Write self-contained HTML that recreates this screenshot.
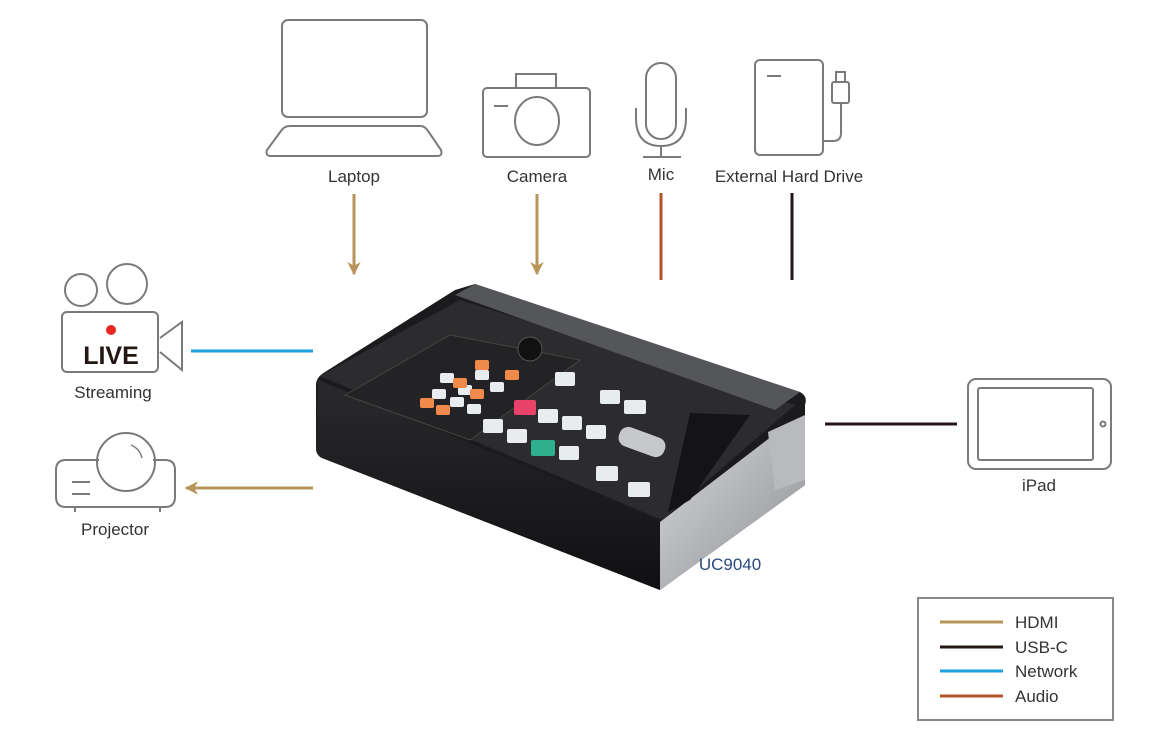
<!DOCTYPE html>
<html><head><meta charset="utf-8"><style>
body{margin:0;background:#fff;width:1170px;height:743px;overflow:hidden}
svg{display:block}
text{font-family:"Liberation Sans",sans-serif;fill:#333;font-size:17px}
</style></head><body>
<svg width="1170" height="743" viewBox="0 0 1170 743">
<defs>
<marker id="ah" viewBox="0 0 10 10" refX="9" refY="5" markerWidth="4.5" markerHeight="4.5" orient="auto"><path d="M0,0 L10,5 L0,10 L3,5 z" fill="#b8965a"/></marker>
<linearGradient id="sil" x1="0" y1="0" x2="1" y2="1"><stop offset="0" stop-color="#d8d9db"/><stop offset="1" stop-color="#8d8f93"/></linearGradient>
<linearGradient id="front" x1="0" y1="0" x2="0" y2="1"><stop offset="0" stop-color="#2a2a2d"/><stop offset="1" stop-color="#101012"/></linearGradient>
</defs>
<g fill="none" stroke="#7a7a7a" stroke-width="2">
<rect x="282" y="20" width="145" height="97" rx="6"/>
<path d="M290,126 H420 Q425,126 428,131 L441,150 Q443,156 437,156 H271 Q265,156 267,150 L281,131 Q284,126 290,126 Z"/>
<rect x="483" y="88" width="107" height="69" rx="4"/>
<path d="M516,88 V74 H556 V88"/>
<ellipse cx="537" cy="121" rx="22" ry="24"/>
<path d="M494,106 H508"/>
<rect x="646" y="63" width="30" height="76" rx="15"/>
<path d="M636,108 V118 Q636,146 661,146 Q686,146 686,118 V108"/>
<path d="M661,146 V157 M643,157 H681"/>
<rect x="755" y="60" width="68" height="95" rx="5"/>
<path d="M767,76 H781"/>
<rect x="832" y="82" width="17" height="21" rx="2"/>
<path d="M836,82 V72 H845 V82"/>
<path d="M841,103 V133 Q841,141 833,141 H823"/>
<circle cx="81" cy="290" r="16"/>
<circle cx="127" cy="284" r="20"/>
<rect x="62" y="312" width="96" height="60" rx="5"/>
<path d="M160,338 L182,322 V370 L160,352"/>
<path d="M66,460 H99 M153,460 H165 Q175,460 175,470 V497 Q175,507 165,507 H66 Q56,507 56,497 V470 Q56,460 66,460"/>
<circle cx="126" cy="462" r="29"/>
<path d="M131,445 Q140,449 142,458" stroke-width="1.5"/>
<path d="M72,482 H90 M72,494 H90 M75,507 V512 M160,507 V512"/>
<rect x="968" y="379" width="143" height="90" rx="8"/>
<rect x="978" y="388" width="115" height="72" rx="2"/>
<circle cx="1103" cy="424" r="2.5"/>
</g>
<circle cx="111" cy="330" r="5" fill="#e6261f"/>
<text x="111" y="364" text-anchor="middle" style="font-weight:bold;font-size:25px;fill:#231815">LIVE</text>
<g stroke-width="3" fill="none">
<path d="M354,194 V274" stroke="#b8965a" marker-end="url(#ah)"/>
<path d="M537,194 V274" stroke="#b8965a" marker-end="url(#ah)"/>
<path d="M661,193 V280" stroke="#b5532a"/>
<path d="M792,193 V280" stroke="#231815"/>
<path d="M191,351 H313" stroke="#1fa0e0"/>
<path d="M313,488 H186" stroke="#b8965a" marker-end="url(#ah)"/>
<path d="M825,424 H957" stroke="#231815"/>
</g>
<!-- device -->
<path d="M325,372 L455,290 L475,284 L800,392 Q808,396 805,405 L805,485 L660,590 L322,458 Q316,455 316,448 L316,385 Q316,377 325,372 Z" fill="#1b1b1d"/>
<polygon points="320,376 460,300 795,405 662,520" fill="#2c2c2e"/>
<polygon points="455,295 475,284 800,392 775,410" fill="#55565a"/>
<path d="M318,380 L660,522 L660,590 L322,458 Q316,455 316,448 Z" fill="url(#front)"/>
<polygon points="660,522 780,430 805,420 805,485 660,590" fill="url(#sil)"/>
<polygon points="768,432 805,415 805,480 775,490" fill="#b9babd"/>
<polygon points="345,395 450,335 580,360 470,440" fill="#232325" stroke="#444" stroke-width="1"/>
<circle cx="530" cy="349" r="12" fill="#111" stroke="#555"/>
<g fill="#e9ecef">
<rect x="483" y="419" width="20" height="14" rx="2"/><rect x="507" y="429" width="20" height="14" rx="2"/><rect x="562" y="416" width="20" height="14" rx="2"/><rect x="586" y="425" width="20" height="14" rx="2"/><rect x="538" y="409" width="20" height="14" rx="2"/><rect x="559" y="446" width="20" height="14" rx="2"/><rect x="596" y="466" width="22" height="15" rx="2"/><rect x="628" y="482" width="22" height="15" rx="2"/><rect x="600" y="390" width="20" height="14" rx="2"/><rect x="624" y="400" width="22" height="14" rx="2"/><rect x="555" y="372" width="20" height="14" rx="2"/>
<rect x="440" y="373" width="14" height="10" rx="2"/><rect x="458" y="385" width="14" height="10" rx="2"/><rect x="475" y="370" width="14" height="10" rx="2"/><rect x="432" y="389" width="14" height="10" rx="2"/><rect x="450" y="397" width="14" height="10" rx="2"/><rect x="467" y="404" width="14" height="10" rx="2"/><rect x="490" y="382" width="14" height="10" rx="2"/>
</g>
<g fill="#f08a4b"><rect x="475" y="360" width="14" height="10" rx="2"/><rect x="505" y="370" width="14" height="10" rx="2"/><rect x="420" y="398" width="14" height="10" rx="2"/><rect x="436" y="405" width="14" height="10" rx="2"/><rect x="453" y="378" width="14" height="10" rx="2"/><rect x="470" y="389" width="14" height="10" rx="2"/></g>
<rect x="514" y="400" width="22" height="15" rx="2" fill="#e8426a"/>
<rect x="531" y="440" width="24" height="16" rx="2" fill="#2fb08c"/>
<polygon points="690,413 750,415 690,500 668,512" fill="#141416"/>
<rect x="618" y="432" width="48" height="20" rx="9" fill="#c7c8cb" transform="rotate(20 642 442)"/>
<text x="730" y="570" text-anchor="middle" style="fill:#2a4a7f;font-size:17px">UC9040</text>
<text x="354" y="182" text-anchor="middle">Laptop</text>
<text x="537" y="182" text-anchor="middle">Camera</text>
<text x="661" y="180" text-anchor="middle">Mic</text>
<text x="789" y="182" text-anchor="middle">External Hard Drive</text>
<text x="113" y="398" text-anchor="middle">Streaming</text>
<text x="115" y="535" text-anchor="middle">Projector</text>
<text x="1039" y="491" text-anchor="middle">iPad</text>
<rect x="918" y="598" width="195" height="122" fill="none" stroke="#888" stroke-width="2"/>
<g stroke-width="3"><path d="M940,622 H1003" stroke="#b8965a"/><path d="M940,647 H1003" stroke="#231815"/><path d="M940,671 H1003" stroke="#1fa0e0"/><path d="M940,696 H1003" stroke="#b5532a"/></g>
<text x="1015" y="628">HDMI</text><text x="1015" y="653">USB-C</text><text x="1015" y="677">Network</text><text x="1015" y="702">Audio</text>
</svg>
</body></html>
